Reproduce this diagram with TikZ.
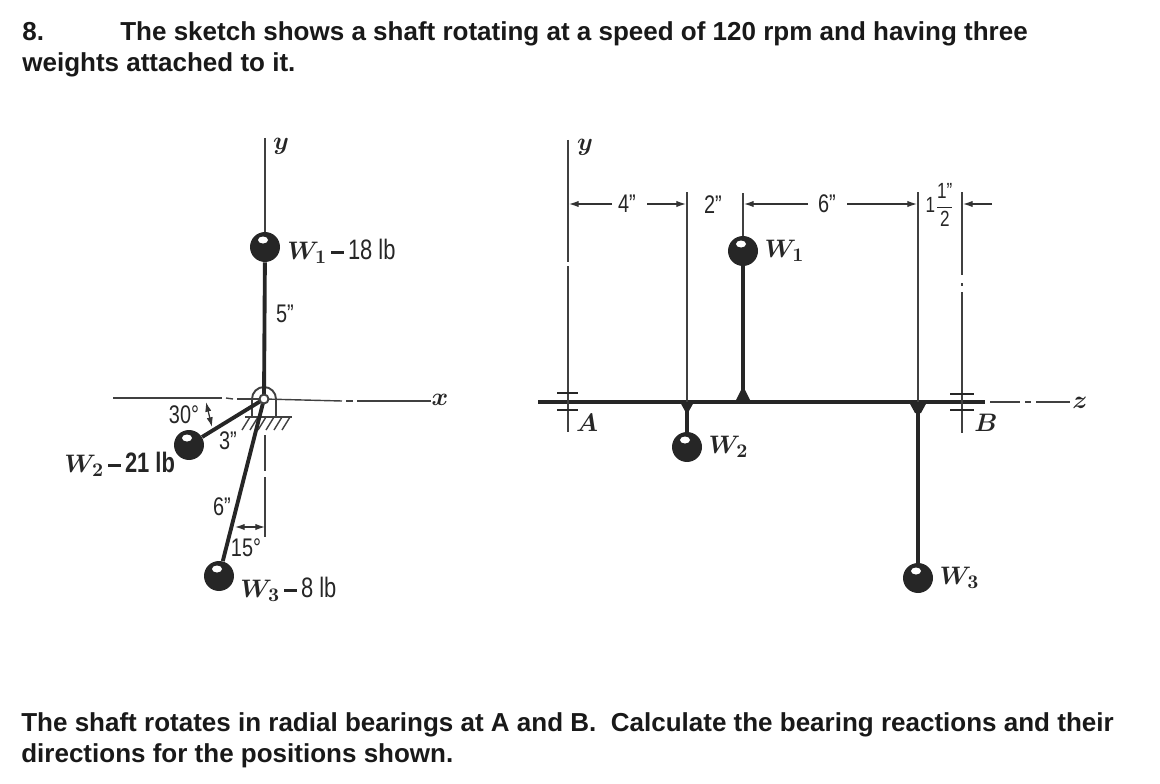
\documentclass[tikz,border=0pt]{standalone}
\usepackage{fontspec}
\setmainfont{Liberation Sans}
\usetikzlibrary{arrows.meta}
\usetikzlibrary{positioning}
\tikzset{ball/.style = {circle, fill = black!85, inner sep = 0, minimum size = 0.6cm,
    path picture = {\fill [white] ([shift = {(-0.04cm, 0.14cm)}]path picture bounding box.center) ellipse (0.1cm and 0.07cm);}}}
\tikzset{rod/.style = {line width = 2.2pt, black!85}}
\tikzset{thin line/.style = {line width = 0.8pt, black!75}}
\tikzset{dim/.style = {line width = 0.7pt, black!80, -{Latex[length = 5.5pt, width = 3.6pt]}}}
\tikzset{head/.style = {anchor = base west, inner sep = 0, font = \fontsize{14.8}{16}\selectfont\bfseries, black!90}}
\tikzset{lab/.style = {inner sep = 0, font = \fontsize{14.5}{16}\selectfont, black!85}}
\tikzset{wlab/.style = {inner sep = 0, anchor = west, font = \fontsize{15}{17}\selectfont\boldmath, black!85}}
\tikzset{axlab/.style = {inner sep = 0, font = \fontsize{15}{17}\selectfont\boldmath, black!85}}
\newcommand{\narrow}[1]{\scalebox{0.78}[1]{#1}}
\newcommand{\wdash}{\,\rule[3pt]{7pt}{1.6pt}\,}
\begin{document}
\begin{tikzpicture}[x = 0.02cm, y = -0.02cm]
    \useasboundingbox (0, 0) rectangle (1160, 784);

    % text above and below
    \node [head] (num) at (22, 41) {8.};
    \node [head] (line1) at (120, 41) {The sketch shows a shaft rotating at a speed of 120 rpm and having three};
    \node [head] (line2) at (22, 72) {weights attached to it.};
    \node [head] (line3) at (21, 731) {The shaft rotates in radial bearings at A and B.\ \ Calculate the bearing reactions and their};
    \node [head] (line4) at (21, 762) {directions for the positions shown.};

    % end view
    \node [ball] (w1) at (265, 247) {};
    \node [ball] (w2) at (189, 445) {};
    \node [ball] (w3) at (219, 576) {};
    \node [circle, inner sep = 0, minimum size = 0.18cm] (pin) at (264, 399) {};

    \draw [thin line] (265, 138) -- (w1);
    \draw [thin line, line width = 1.2pt] (113, 398) -- (222, 398);
    \draw [thin line] (226, 398) -- (233, 399);
    \draw [thin line] (237, 399) -- (pin);
    \draw [thin line] (pin) -- (342, 401);
    \draw [thin line] (346, 401) -- (353, 401);
    \draw [thin line] (357, 401) -- (431, 401);
    \draw [thin line] (265, 435) -- (265, 471);
    \draw [thin line] (265, 477) -- (265, 537);

    \draw [thin line, line width = 1.1pt] (252, 417) -- (252, 399) arc (180:360:12) -- (276, 417);
    \draw [thin line, line width = 1.2pt] (245, 417) -- (292, 417);
    \foreach \hx in {250, 258, ..., 290} {
      \draw [thin line] (\hx, 417) -- (\hx - 8, 430);
    }

    \draw [rod] (w1) -- (pin);
    \draw [rod] (w2) -- (pin);
    \draw [rod] (w3) -- (pin);
    \node [draw, thin line, line width = 1.1pt, fill = white, circle, inner sep = 0, minimum size = 0.18cm] at (pin) {};

    \draw [dim, {Latex[length = 5.5pt, width = 3.6pt]}-{Latex[length = 5.5pt, width = 3.6pt]}] (206, 402) -- (212, 427);
    \draw [dim, {Latex[length = 5.5pt, width = 3.6pt]}-{Latex[length = 5.5pt, width = 3.6pt]}] (235, 527) -- (265, 527);

    \node [lab, anchor = base] (ang30) at (184, 423) {\narrow{30°}};
    \node [lab, anchor = base] (len3) at (228, 449) {\narrow{3"}};
    \node [lab, anchor = base] (len5) at (285, 322) {\narrow{5"}};
    \node [lab, anchor = base] (len6) at (222, 515) {\narrow{6"}};
    \node [lab, anchor = base] (ang15) at (246, 556) {\narrow{15°}};
    \node [wlab] (labw1) at (287, 251) {$W_1$\wdash\narrow{\fontsize{16}{17}\selectfont 18 lb}};
    \node [wlab] (labw2) at (64, 464) {$W_2$\wdash\narrow{\fontsize{16}{17}\selectfont\bfseries 21 lb}};
    \node [wlab] (labw3) at (240, 589) {$W_3$\wdash\narrow{\fontsize{16}{17}\selectfont 8 lb}};
    \node [axlab] (laby) at (281, 146) {$y$};
    \node [axlab] (labx) at (440, 400) {$x$};

    % side view
    \node [ball] (s1) at (743, 251) {};
    \node [ball] (s2) at (687, 447) {};
    \node [ball] (s3) at (918, 578) {};
    \coordinate (a) at (568, 402);
    \coordinate (b) at (962, 402);
    \coordinate (f1) at (743, 402);
    \coordinate (f2) at (687, 402);
    \coordinate (f3) at (918, 402);

    \draw [rod, line width = 1.8pt] (538, 402) -- (985, 402);
    \draw [thin line] (990, 402) -- (1020, 402);
    \draw [thin line] (1025, 402) -- (1031, 402);
    \draw [thin line] (1036, 402) -- (1070, 402);

    \draw [rod] (s1) -- (f1);
    \draw [rod] (s2) -- (f2);
    \draw [rod, line width = 2.8pt] (s3) -- (f3);
    \fill [black!85] (735, 402) -- (741, 390) -- (745, 390) -- (751, 402) -- cycle;
    \fill [black!85] (680, 402) -- (694, 402) -- (689, 411) -- (685, 411) -- cycle;
    \fill [black!85] (909, 402) -- (927, 402) -- (921, 413) -- (915, 413) -- cycle;

    \draw [thin line] (568, 140) -- (568, 262);
    \draw [thin line] (568, 266) -- (a) -- (568, 432);
    \draw [thin line] (687, 192) -- (f2);
    \draw [thin line] (743, 193) -- (s1);
    \draw [thin line] (f3) -- (918, 192);
    \draw [thin line] (962, 192) -- (962, 275);
    \draw [thin line] (962, 283) -- (962, 286);
    \draw [thin line] (962, 292) -- (b) -- (962, 433);

    \draw [line width = 1.3pt, black!85] (557, 393) -- (578, 393);
    \draw [line width = 1.3pt, black!85] (557, 410) -- (578, 410);
    \draw [line width = 1.3pt, black!85] (950, 394) -- (974, 394);
    \draw [line width = 1.3pt, black!85] (950, 410) -- (974, 410);

    \node [lab, anchor = center] (dim4) at (627, 204) {\narrow{4"}};
    \node [lab, anchor = center] (dim2) at (713, 205) {\narrow{2"}};
    \node [lab, anchor = center] (dim6) at (827, 204) {\narrow{6"}};
    \node [lab, anchor = center, font = \fontsize{12.5}{14}\selectfont] (dim1) at (940, 205) {\narrow{1}$\displaystyle\frac{\mbox{\narrow{1"}}}{\mbox{\narrow{2}}}$};
    \draw [dim] (dim4) ++ (-15, 0) -- (569, 204);
    \draw [dim] (dim4) ++ (20, 0) -- (686, 204);
    \draw [dim] (dim6) ++ (-19, 0) -- (744, 204);
    \draw [dim] (dim6) ++ (20, 0) -- (917, 204);
    \draw [dim] (992, 204) -- (963, 204);

    \node [wlab, right = 0.12cm of s1] (labs1) {$W_1$};
    \node [wlab, right = 0.12cm of s2] (labs2) {$W_2$};
    \node [wlab, right = 0.12cm of s3] (labs3) {$W_3$};
    \node [axlab] (labsy) at (585, 147) {$y$};
    \node [axlab] (labz) at (1080, 403) {$z$};
    \node [axlab] (laba) at (587, 423) {$A$};
    \node [axlab] (labb) at (986, 423) {$B$};
  \end{tikzpicture}
\end{document}
